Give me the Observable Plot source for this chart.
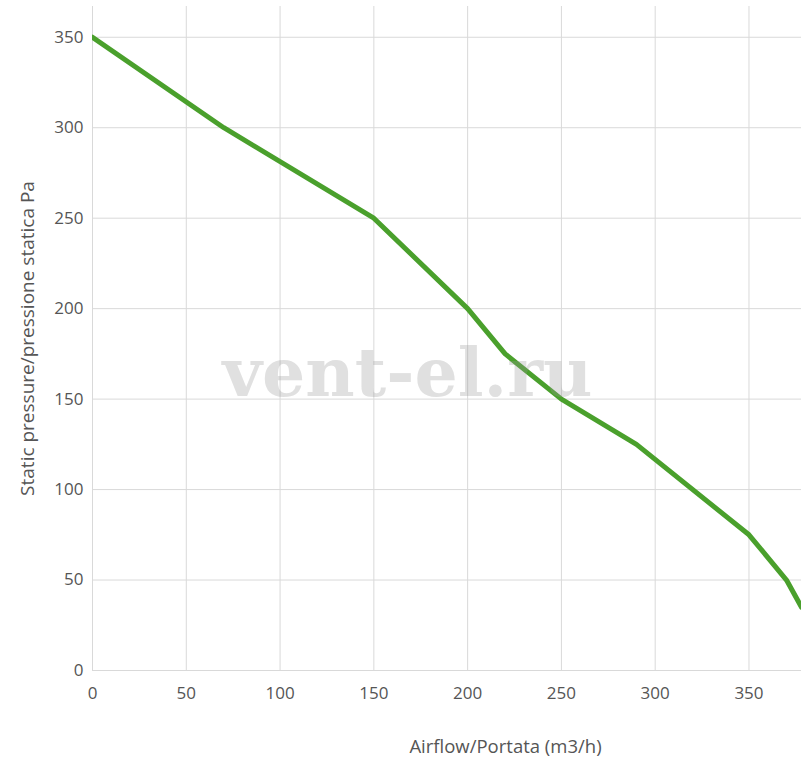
<!DOCTYPE html>
<html>
<head>
<meta charset="utf-8">
<script src="https://cdn.jsdelivr.net/npm/d3@7"></script>
<script src="https://cdn.jsdelivr.net/npm/@observablehq/plot@0.6"></script>
<style>
  html, body { margin: 0; padding: 0; background: #fff; }
  #chart { width: 812px; height: 774px; }
</style>
</head>
<body>
<div id="chart"></div>
<script>
const airflow  = [0, 70, 150, 200, 220, 250, 290, 350, 370, 378];
const pressure = [350, 300, 250, 200, 175, 150, 125, 75, 50, 35];
const xTicks = [0, 50, 100, 150, 200, 250, 300, 350];
const yTicks = [0, 50, 100, 150, 200, 250, 300, 350];
const xLabel = "Airflow/Portata (m3/h)";
const yLabel = "Static pressure/pressione statica Pa";
const watermark = "vent-el.ru";

const data = airflow.map((x, i) => ({x, y: pressure[i]}));
const font = "'Open Sans', 'Noto Sans', sans-serif";

const chart = Plot.plot({
  width: 812,
  height: 774,
  marginLeft: 92,
  marginRight: 11,
  marginTop: 6,
  marginBottom: 104,
  style: {fontFamily: font, fontSize: "17px", color: "#555", background: "#fff"},
  x: {domain: [0, 378], label: null},
  y: {domain: [0, 367], label: null},
  marks: [
    Plot.gridX(xTicks, {stroke: "#d9d9d9", strokeOpacity: 1, strokeWidth: 1}),
    Plot.gridY(yTicks, {stroke: "#d9d9d9", strokeOpacity: 1, strokeWidth: 1}),
    Plot.axisX({ticks: xTicks, tickSize: 0, tickPadding: 16, fill: "#555", fontSize: 17, label: null}),
    Plot.axisY({ticks: yTicks, tickSize: 0, tickPadding: 9, fill: "#555", fontSize: 17, label: null}),
    Plot.line(data, {x: "x", y: "y", stroke: "#4aa02c", strokeWidth: 5, strokeLinejoin: "round", strokeLinecap: "round", clip: true}),
    Plot.text([watermark], {frameAnchor: "top-left", dx: 315, dy: 368, text: d => d, fontFamily: "'DejaVu Serif', 'Liberation Serif', serif", fontWeight: "bold", fontSize: 68, fill: "#999999", fillOpacity: 0.3, textAnchor: "middle", lineAnchor: "middle"}),
    Plot.text([xLabel], {frameAnchor: "bottom-left", dx: 413, dy: 77, text: d => d, fill: "#555", fontSize: 18.5, textAnchor: "middle", lineAnchor: "middle"}),
    Plot.text([yLabel], {frameAnchor: "top-left", dx: -65, dy: 332, text: d => d, fill: "#555", fontSize: 19, rotate: -90, textAnchor: "middle", lineAnchor: "middle"})
  ]
});
document.getElementById("chart").appendChild(chart);
</script>
</body>
</html>
